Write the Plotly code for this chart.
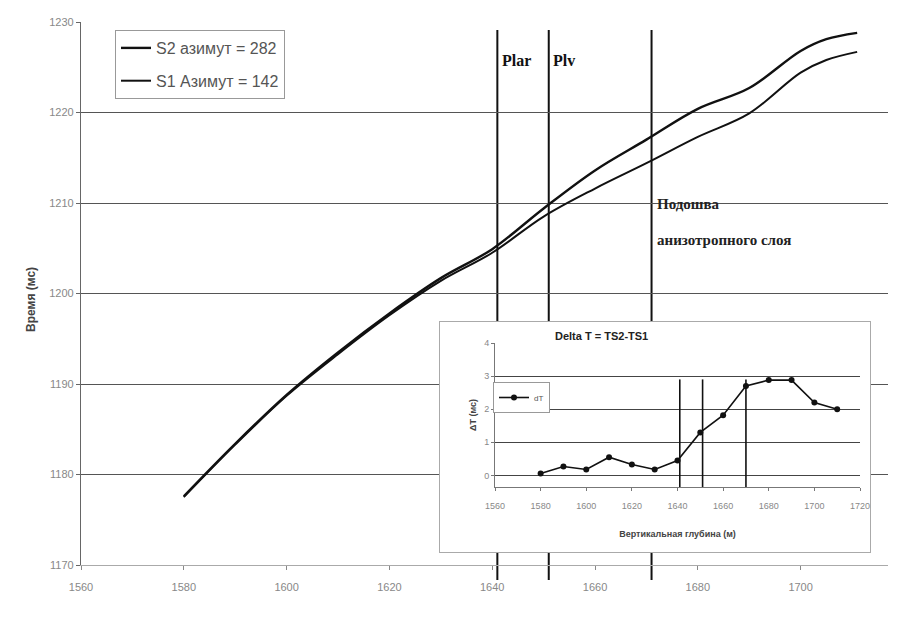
import plotly.graph_objects as go

# ---- main chart data ----
depth = [1580, 1590, 1600, 1610, 1620, 1630, 1640, 1650, 1660, 1670, 1680, 1690, 1700, 1705, 1711]
s2 = [1177.6, 1183.4, 1188.8, 1193.5, 1197.8, 1201.7, 1204.9, 1209.4, 1213.6, 1217.0, 1220.4, 1222.7, 1226.8, 1228.1, 1228.8]
s1 = [1177.5, 1183.3, 1188.7, 1193.3, 1197.6, 1201.4, 1204.5, 1208.5, 1211.6, 1214.4, 1217.3, 1219.9, 1224.4, 1225.8, 1226.7]
s2_name = "S2 азимут = 282"
s1_name = "S1 Азимут = 142"

x_ticks = [1560, 1580, 1600, 1620, 1640, 1660, 1680, 1700, 1720]
y_ticks = [1170, 1180, 1190, 1200, 1210, 1220, 1230]

boundaries = [1641, 1651, 1671]

# ---- inset data ----
inset_depth = [1580, 1590, 1600, 1610, 1620, 1630, 1640, 1650, 1660, 1670, 1680, 1690, 1700, 1710]
delta_t = [0.06, 0.27, 0.18, 0.55, 0.33, 0.18, 0.45, 1.3, 1.82, 2.7, 2.88, 2.88, 2.2, 2.0]
inset_x_ticks = [1560, 1580, 1600, 1620, 1640, 1660, 1680, 1700, 1720]
inset_y_ticks = [0, 1, 2, 3, 4]
inset_boundaries = [1641, 1651, 1670]

L, T, B = 81, 22, 565
W = 807.0
H = 543.0


def px(x):
    return (x - L) / W


def py(y):
    return (B - y) / H


fig = go.Figure()

fig.add_trace(go.Scatter(x=depth, y=s2, mode="lines", name=s2_name, legendgroup="a",
                         line=dict(color="#111", width=2.4, shape="spline"),
                         xaxis="x", yaxis="y", legend="legend"))
fig.add_trace(go.Scatter(x=depth, y=s1, mode="lines", name=s1_name, legendgroup="b",
                         line=dict(color="#111", width=2.0, shape="spline"),
                         xaxis="x", yaxis="y", legend="legend"))

# dummy subplot for inset frame (white background)
fig.add_trace(go.Scatter(x=[0], y=[0], mode="markers", marker=dict(opacity=0),
                         showlegend=False, hoverinfo="skip", xaxis="x2", yaxis="y2"))

# inset trace
fig.add_trace(go.Scatter(x=inset_depth, y=delta_t, mode="lines+markers", name="dT",
                         line=dict(color="#111", width=1.6),
                         marker=dict(color="#111", size=6),
                         xaxis="x3", yaxis="y3", legend="legend2"))

shapes = []
for b in boundaries:
    shapes.append(dict(type="line", xref="x", yref="paper", x0=b, x1=b, y0=py(580), y1=py(30),
                       line=dict(color="#111", width=2), layer="below"))
for b in inset_boundaries:
    shapes.append(dict(type="line", xref="x3", yref="y3", x0=b, x1=b, y0=-0.35, y1=2.9,
                       line=dict(color="#111", width=1.6), layer="above"))

serif = "Liberation Serif, Times New Roman, serif"

fig.update_layout(
    width=898, height=625,
    margin=dict(l=81, r=0, t=22, b=60),
    paper_bgcolor="white",
    plot_bgcolor="white",
    font=dict(family="Liberation Sans, Arial, sans-serif", color="#777"),
    xaxis=dict(domain=[0, 1], range=[1560, 1717], tickvals=x_ticks, ticks="outside", ticklen=4,
               tickcolor="#888", showgrid=False, showline=True, linecolor="#aaa", linewidth=1,
               tickfont=dict(size=11, color="#888"), zeroline=False, automargin=False,
               ticklabelstandoff=8),
    yaxis=dict(domain=[0, 1], range=[1170, 1230], tickvals=y_ticks, ticks="outside", ticklen=4,
               tickcolor="#666", showgrid=True, gridcolor="#555", gridwidth=1,
               showline=True, linecolor="#666", linewidth=1.2,
               tickfont=dict(size=11, color="#888"), zeroline=False, automargin=False),
    xaxis2=dict(domain=[px(440), px(870)], range=[0, 1], visible=True, showticklabels=False,
                showgrid=False, zeroline=False, showline=True, mirror=True, linecolor="#aaa",
                linewidth=1, ticks="", anchor="y2"),
    yaxis2=dict(domain=[py(552), py(322)], range=[0, 1], visible=True, showticklabels=False,
                showgrid=False, zeroline=False, showline=True, mirror=True, linecolor="#aaa",
                linewidth=1, ticks="", anchor="x2"),
    xaxis3=dict(domain=[px(495), px(860)], range=[1560, 1720], tickvals=inset_x_ticks,
                ticks="outside", ticklen=3, tickcolor="#777", showgrid=False, zeroline=False,
                showline=True, linecolor="#777", linewidth=1, anchor="y3",
                tickfont=dict(size=9, color="#888"), ticklabelstandoff=7,
                title=dict(text="<b>Вертикальная глубина (м)</b>", font=dict(size=9, color="#444"),
                           standoff=20)),
    yaxis3=dict(domain=[py(487), py(343)], range=[-0.35, 4], tickvals=inset_y_ticks,
                ticks="outside", ticklen=3, tickcolor="#777", showgrid=True, gridcolor="#444",
                gridwidth=1, zeroline=False, showline=True, linecolor="#777", linewidth=1,
                anchor="x3", tickfont=dict(size=9, color="#888"),
                title=dict(text="<b>ΔT (мс)</b>", font=dict(size=9, color="#444"), standoff=6)),
    legend=dict(x=px(115), y=py(30), xanchor="left", yanchor="top", bgcolor="white",
                bordercolor="#999", borderwidth=1, font=dict(size=16, color="#555"),
                itemwidth=30, tracegroupgap=9),
    legend2=dict(x=px(493), y=py(382), xanchor="left", yanchor="top", bgcolor="white",
                 bordercolor="#999", borderwidth=1, font=dict(size=8, color="#555"),
                 itemwidth=30),
    shapes=shapes,
    annotations=[
        dict(text="<b>Время (мс)</b>", xref="paper", yref="paper", x=px(22), y=py(300),
             textangle=-90, showarrow=False, font=dict(size=12, color="#444")),
        dict(text="<b>Plar</b>", xref="paper", yref="paper", x=px(500), y=py(50),
             xanchor="left", showarrow=False, font=dict(family=serif, size=16, color="#111")),
        dict(text="<b>Plv</b>", xref="paper", yref="paper", x=px(551), y=py(50),
             xanchor="left", showarrow=False, font=dict(family=serif, size=16, color="#111")),
        dict(text="<b>Подошва</b>", xref="paper", yref="paper", x=px(655), y=py(194),
             xanchor="left", showarrow=False, font=dict(family=serif, size=15, color="#222")),
        dict(text="<b>анизотропного слоя</b>", xref="paper", yref="paper", x=px(655), y=py(240),
             xanchor="left", showarrow=False, font=dict(family=serif, size=15, color="#222")),
        dict(text="<b>Delta T = TS2-TS1</b>", xref="paper", yref="paper", x=px(650), y=py(336),
             showarrow=False, font=dict(size=11, color="#222")),
    ],
    showlegend=True,
)

fig.write_html("out.html")
